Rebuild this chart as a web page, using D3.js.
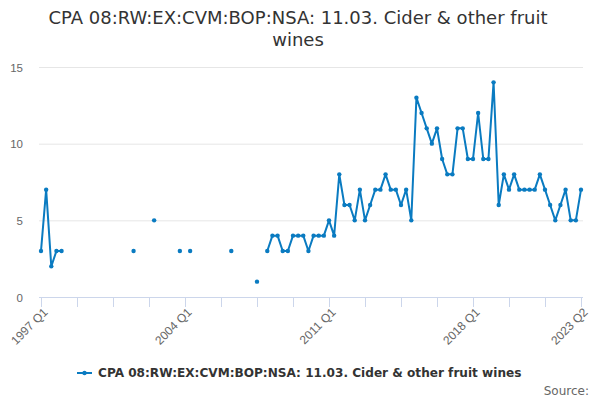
<!DOCTYPE html>
<html>
<head>
<meta charset="utf-8">
<script src="https://cdn.jsdelivr.net/npm/d3@7"></script>
<style>
  body { margin: 0; background: #fff; }
  svg { font-family: "DejaVu Sans", sans-serif; }
</style>
</head>
<body>
<svg id="chart" width="600" height="400"></svg>
<script>
// Quarterly values, 1997 Q1 .. 2023 Q2 (null = no data)
const values = [
  3, 7, 2, 3, 3, null, null, null, null, null, null, null, null, null, null, null, null, null, 3, null,
  null, null, 5, null, null, null, null, 3, null, 3, null, null, null, null, null, null, null, 3, null, null,
  null, null, 1, null, 3, 4, 4, 3, 3, 4, 4, 4, 3, 4, 4, 4, 5, 4, 8, 6,
  6, 5, 7, 5, 6, 7, 7, 8, 7, 7, 6, 7, 5, 13, 12, 11, 10, 11, 9, 8,
  8, 11, 11, 9, 9, 12, 9, 9, 14, 6, 8, 7, 8, 7, 7, 7, 7, 8, 7, 6,
  5, 6, 7, 5, 5, 7
];
const startYear = 1997;
const categories = values.map((v, i) => `${startYear + Math.floor(i / 4)} Q${i % 4 + 1}`);
const tickLabels = ['1997 Q1', '2004 Q1', '2011 Q1', '2018 Q1', '2023 Q2'];
const yTicks = [0, 5, 10, 15];
const seriesName = 'CPA 08:RW:EX:CVM:BOP:NSA: 11.03. Cider & other fruit wines';
const titleLines = ['CPA 08:RW:EX:CVM:BOP:NSA: 11.03. Cider & other fruit', 'wines'];

const svg = d3.select('#chart');
const color = '#0a7bc1';
const plot = {left: 39, right: 583, top: 67, bottom: 297};

const x = d3.scalePoint()
  .domain(categories)
  .range([41, 581]);

const y = d3.scaleLinear()
  .domain([0, 15])
  .range([plot.bottom, plot.top]);

// Title
svg.append('text')
  .attr('x', 298)
  .attr('y', 24)
  .attr('text-anchor', 'middle')
  .style('font-size', '18px')
  .style('fill', '#333')
  .selectAll('tspan')
  .data(titleLines)
  .enter().append('tspan')
  .attr('x', 298)
  .attr('dy', (d, i) => i ? 22 : 0)
  .text(d => d);

// Gridlines + y labels
const yAxis = svg.append('g')
  .attr('transform', `translate(${plot.left},0)`)
  .call(d3.axisLeft(y).tickValues(yTicks).tickSize(-(plot.right - plot.left)).tickPadding(16));
yAxis.select('.domain').remove();
yAxis.selectAll('.tick line').attr('stroke', '#e6e6e6');
yAxis.selectAll('.tick').filter(d => d === 0).select('line').remove();
yAxis.selectAll('.tick text')
  .style('font-size', '11.5px')
  .style('fill', '#666')
  .attr('dy', '0.35em');

// X axis
const tickCats = categories.filter((c, i) => i % 7 === 0);
const xAxis = svg.append('g')
  .attr('transform', `translate(0,${plot.bottom})`)
  .call(d3.axisBottom(x).tickValues(tickCats).tickSize(10).tickSizeOuter(0)
    .tickFormat(d => tickLabels.includes(d) ? d : ''));
xAxis.select('.domain')
  .attr('d', `M${plot.left},0.5H${plot.right}`)
  .attr('stroke', '#ccd6eb');
xAxis.selectAll('.tick line').attr('stroke', '#ccd6eb');
xAxis.selectAll('.tick text')
  .style('font-size', '12px')
  .style('fill', '#666')
  .attr('text-anchor', 'end')
  .attr('transform', 'translate(4,13) rotate(-45)')
  .attr('dy', '0.35em')
  .attr('y', 0);

// Line
const data = values.map((v, i) => ({cat: categories[i], v}));
const line = d3.line()
  .defined(d => d.v !== null)
  .x(d => x(d.cat))
  .y(d => y(d.v));

svg.append('path')
  .datum(data)
  .attr('fill', 'none')
  .attr('stroke', color)
  .attr('stroke-width', 2)
  .attr('stroke-linejoin', 'round')
  .attr('d', line);

svg.selectAll('.dot')
  .data(data.filter(d => d.v !== null))
  .enter().append('circle')
  .attr('class', 'dot')
  .attr('cx', d => x(d.cat))
  .attr('cy', d => y(d.v))
  .attr('r', 2.2)
  .attr('fill', color);

// Legend
const legend = svg.append('g').attr('transform', 'translate(77,373)');
legend.append('line')
  .attr('x1', 0).attr('x2', 15)
  .attr('stroke', color).attr('stroke-width', 2);
legend.append('circle')
  .attr('cx', 7.5).attr('r', 2.2).attr('fill', color);
legend.append('text')
  .attr('x', 21)
  .attr('y', 0)
  .attr('dy', '0.35em')
  .style('font-size', '12.1px')
  .style('font-weight', 'bold')
  .style('fill', '#333')
  .text(seriesName);

// Source
svg.append('text')
  .attr('x', 589)
  .attr('y', 395)
  .attr('text-anchor', 'end')
  .style('font-size', '12px')
  .style('fill', '#666')
  .text('Source:');
</script>
</body>
</html>
